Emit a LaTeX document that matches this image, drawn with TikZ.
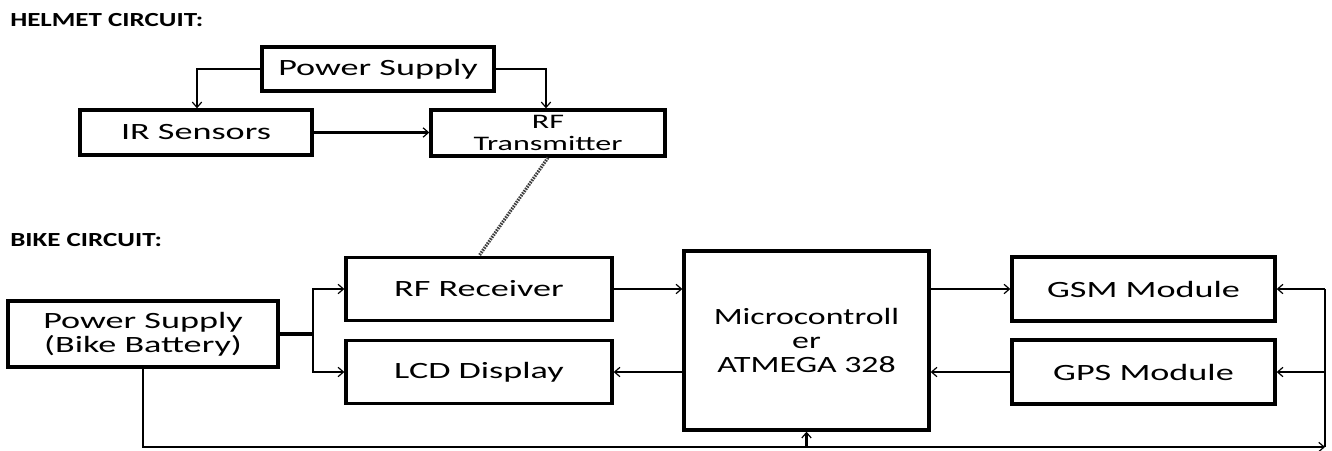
\documentclass[tikz,border=0pt]{standalone}
\usepackage{fontspec}
\usepackage{graphicx}
\setmainfont{Carlito}
\usetikzlibrary{arrows.meta}
\newcommand{\sx}[1]{\scalebox{1.55}[1]{#1}}
\newcommand{\hx}[1]{\scalebox{1.35}[1]{#1}}
\tikzset{
  blk/.style={draw, line width=2.5pt, inner sep=0pt, align=center,
    font=\fontsize{17.5}{18}\selectfont},
  conn/.style={line width=1.6pt, -{Straight Barb[length=4pt,width=7pt,line width=0.9pt]}},
  wire/.style={line width=1.6pt},
  radio/.style={line width=2.4pt, black!75, dash pattern=on 1.2pt off 0.8pt},
  head/.style={anchor=west, inner sep=0pt, font=\bfseries\fontsize{15}{16}\selectfont}
}
\begin{document}
\begin{tikzpicture}[x=0.75pt,y=-0.75pt]
\useasboundingbox (0,0) rectangle (1332,450);
% headings
\node[head] (h1) at (10,20) {\hx{HELMET CIRCUIT:}};
\node[head] (h2) at (10,240) {\hx{BIKE CIRCUIT:}};
% helmet
\node[blk, minimum width=174pt, minimum height=33pt] (hps) at (378,69) {\sx{Power Supply}};
\node[blk, minimum width=174pt, minimum height=33.75pt] (ir) at (196,132.5) {\sx{IR Sensors}};
\node[blk, minimum width=175.5pt, minimum height=34.5pt, font=\fontsize{15.5}{17}\selectfont] (rftx) at (548,133) {\sx{RF}\\\sx{Transmitter}};
\coordinate (hl) at (197,69);
\coordinate (hr) at (546,69);
\draw[conn] (hps.west) -- (hl) -- (hl |- ir.north);
\draw[conn] (hps.east) -- (hr) -- (hr |- rftx.north);
\draw[conn] (ir.east) -- (ir.east -| rftx.west);
% bike
\node[blk, minimum width=202.5pt, minimum height=49.5pt] (bps) at (143,334) {\sx{Power Supply}\\\sx{(Bike Battery)}};
\node[blk, minimum width=199.5pt, minimum height=47.25pt] (rfrx) at (479,289) {\sx{RF Receiver}};
\node[blk, minimum width=199.5pt, minimum height=47.25pt] (lcd) at (479,372) {\sx{LCD Display}};
\node[blk, minimum width=183.75pt, minimum height=134.25pt] (mcu) at (806.5,340.5) {\scalebox{1.45}[1]{Microcontroll}\\\scalebox{1.45}[1]{er}\\\scalebox{1.45}[1]{ATMEGA 328}};
\node[blk, minimum width=197.25pt, minimum height=48pt] (gsm) at (1143.5,289) {\sx{GSM Module}};
\node[blk, minimum width=197.25pt, minimum height=48pt] (gps) at (1143.5,372) {\sx{GPS Module}};
\draw[radio] (rftx.south) -- (rfrx.north);
\coordinate (j) at (313,334);
\draw[line width=2.5pt] (bps.east) -- (j);
\draw[conn] (j) |- (rfrx.west);
\draw[conn] (j) |- (lcd.west);
\draw[conn] (rfrx.east) -- (rfrx.east -| mcu.west);
\draw[conn] (lcd.east -| mcu.west) -- (lcd.east);
\draw[conn] (gsm.west -| mcu.east) -- (gsm.west);
\draw[conn] (gps.west) -- (gps.west -| mcu.east);
\coordinate (br) at (1325,447);
\coordinate (tr) at (1325,289);
\coordinate (gr) at (1325,372);
\draw[conn] (bps.south) |- (br);
\draw[wire] (br) -- (tr);
\draw[conn] (tr) -- (gsm.east);
\draw[conn] (gr) -- (gps.east);
\draw[conn] (mcu.south |- br) -- (mcu.south);
\end{tikzpicture}
\end{document}
